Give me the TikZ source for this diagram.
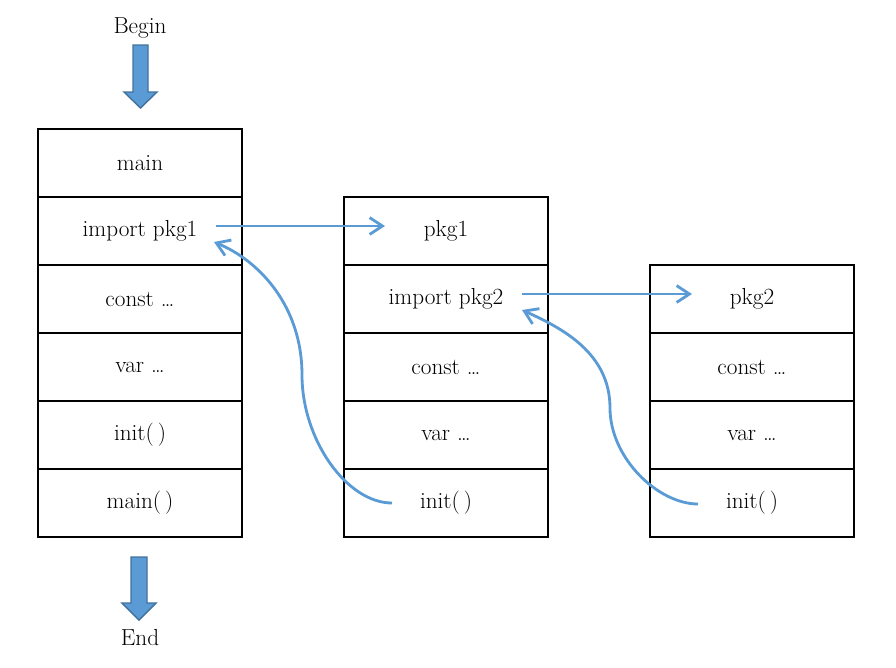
\documentclass[tikz,border=0pt]{standalone}
\usetikzlibrary{arrows.meta,calc}
\definecolor{lineblue}{RGB}{91,155,213}
\definecolor{edgeblue}{RGB}{65,113,156}
\begin{document}
\begin{tikzpicture}[x=0.025cm,y=-0.025cm,>={Straight Barb[length=3.2mm,width=4.2mm]},
		cell/.style={draw,line width=1.4pt,minimum width=5.1cm,minimum height=1.7cm,inner sep=0pt,font=\fontsize{16.5}{19}\selectfont},
		lbl/.style={font=\fontsize{16.5}{19}\selectfont},
		link/.style={->,lineblue,line width=2pt},
		bigarrow/.style={fill=lineblue,draw=edgeblue,line width=1pt}]
		\useasboundingbox (0,0) rectangle (896,667);
		% three stacks
		\foreach \t [count=\i] in {main,import pkg1,const \ldots,var \ldots,init(\,),main(\,)}
			\node[cell] (main\i) at (140,163+68*\i-68) {\t};
		\foreach \t [count=\i] in {pkg1,import pkg2,const \ldots,var \ldots,init(\,)}
			\node[cell] (pone\i) at (446,231+68*\i-68) {\t};
		\foreach \t [count=\i] in {pkg2,const \ldots,var \ldots,init(\,)}
			\node[cell] (ptwo\i) at (752,299+68*\i-68) {\t};
		\node[lbl] (begin) at (140,28) {Begin};
		\node[lbl] (end) at (140,638) {End};
		\draw[bigarrow] ($(begin)+(-7,17)$) -- ++(15,0) -- ++(0,47) -- ++(9,0) -- ++(-16.5,16) -- ++(-16.5,-16) -- ++(9,0) -- cycle;
		\draw[bigarrow] ($(end)+(-9,-81)$) -- ++(16,0) -- ++(0,46) -- ++(9,0) -- ++(-17,17) -- ++(-17,-17) -- ++(9,0) -- cycle;
		% imports and returns
		\draw[link] ($(main2)+(76,-5)$) -- ($(pone1)+(-61,-5)$);
		\draw[link] ($(pone2)+(76,-5)$) -- ($(ptwo1)+(-60,-5)$);
		\draw[link] ($(pone5)+(-54,0)$) .. controls +(-45,0) and +(0,65) .. ($(main4)+(162,8)$)
			.. controls +(0,-70) and +(44,18) .. ($(main2)+(74,11)$);
		\draw[link] ($(ptwo4)+(-54,1)$) .. controls +(-40,0) and +(0,50) .. ($(ptwo3)+(-142,-27)$)
			.. controls +(0,-55) and +(40,18) .. ($(pone2)+(76,11)$);
\end{tikzpicture}
\end{document}
